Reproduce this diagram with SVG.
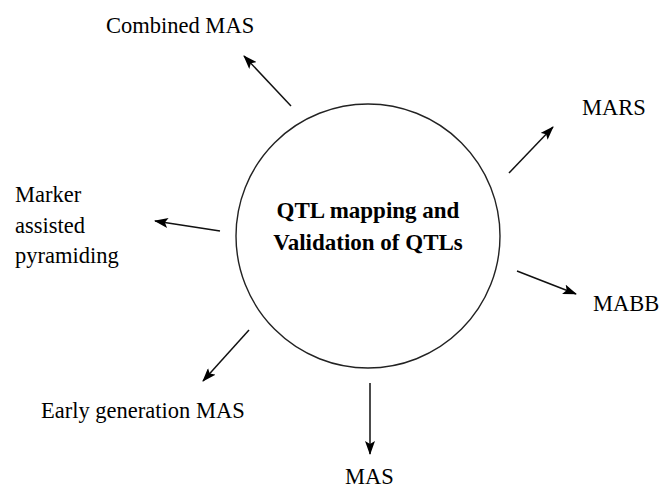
<svg xmlns="http://www.w3.org/2000/svg" width="660" height="489" viewBox="0 0 660 489">
  <style>
    text { font-family: 'Liberation Serif', Tinos, 'Times New Roman', serif; fill: #000; }
    .lbl { font-size: 22.5px; }
    .hub { font-size: 23px; font-weight: bold; text-anchor: middle; }
    .ring { fill: #fff; stroke: #222; stroke-width: 1.4; }
    .edge { stroke: #111; stroke-width: 1.5; fill: none; marker-end: url(#head); }
  </style>
  <defs>
    <marker id="head" markerUnits="userSpaceOnUse" viewBox="0 0 14 10" refX="13" refY="5" markerWidth="14" markerHeight="10" orient="auto">
      <path d="M0,0 L14,5 L0,10 L3,5 Z" fill="#000"/>
    </marker>
  </defs>
  <rect width="660" height="489" fill="#fff"/>

  <g id="hub">
    <circle class="ring" cx="368" cy="236" r="132"/>
    <text class="hub" x="368" y="218" font-family="Liberation Serif, serif">QTL mapping and</text>
    <text class="hub" x="368" y="250" font-family="Liberation Serif, serif">Validation of QTLs</text>
  </g>

  <g id="connectors">
    <line class="edge" x1="291" y1="106" x2="244" y2="56"/>
    <line class="edge" x1="509" y1="173" x2="553" y2="127"/>
    <line class="edge" x1="220" y1="231" x2="155" y2="221"/>
    <line class="edge" x1="517" y1="271" x2="576" y2="294"/>
    <line class="edge" x1="249" y1="330" x2="203" y2="381"/>
    <line class="edge" x1="370" y1="383" x2="370" y2="454"/>
  </g>

  <g id="combined-mas">
    <text class="lbl" x="106" y="33">Combined MAS</text>
  </g>
  <g id="mars">
    <text class="lbl" x="582" y="115">MARS</text>
  </g>
  <g id="pyramiding">
    <text class="lbl" x="15" y="202">Marker</text>
    <text class="lbl" x="15" y="233">assisted</text>
    <text class="lbl" x="15" y="263">pyramiding</text>
  </g>
  <g id="mabb">
    <text class="lbl" x="593" y="311">MABB</text>
  </g>
  <g id="early-mas">
    <text class="lbl" x="41" y="418">Early generation MAS</text>
  </g>
  <g id="mas">
    <text class="lbl" x="345" y="484">MAS</text>
  </g>
</svg>
